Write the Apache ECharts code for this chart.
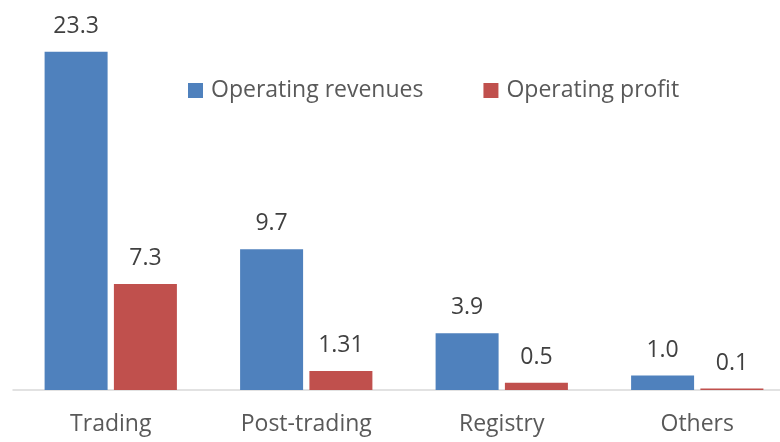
<!DOCTYPE html>
<html>
<head>
<meta charset="utf-8">
<script src="https://cdn.jsdelivr.net/npm/echarts@6/dist/echarts.min.js"></script>
<style>
  html, body { margin: 0; padding: 0; background: #fff; overflow: hidden; }
  #main { width: 795px; height: 442px; }
</style>
</head>
<body>
<div id="main"></div>
<script>
const categories = ['Trading', 'Post-trading', 'Registry', 'Others'];
const revenues = [23.3, 9.7, 3.9, 1.0];
const profit = [7.3, 1.31, 0.5, 0.1];
const revenueLabels = ['23.3', '9.7', '3.9', '1.0'];
const profitLabels = ['7.3', '1.31', '0.5', '0.1'];

// chart is a bit wider than the window so the last category runs off the right edge
const chart = echarts.init(document.getElementById('main'));
const fontFamily = 'Open Sans';

const labelFor = (texts) => ({
    show: true,
    position: 'top',
    distance: 14,
    color: '#404040',
    fontSize: 23,
    fontFamily: fontFamily,
    formatter: (p) => texts[p.dataIndex]
});

const option = {
    backgroundColor: '#fff',
    animation: false,
    grid: { left: 13, right: 0, top: 27, bottom: 52 },
    legend: {
        left: 188,
        top: 79,
        padding: 0,
        itemWidth: 15,
        itemHeight: 15,
        itemGap: 60,
        icon: 'rect',
        textStyle: { color: '#595959', fontSize: 23, fontFamily: fontFamily, padding: [0, 0, 0, 3] },
        data: ['Operating revenues', 'Operating profit']
    },
    xAxis: {
        type: 'category',
        data: categories,
        axisLine: { lineStyle: { color: '#d9d9d9', width: 1.5 } },
        axisTick: { show: false },
        axisLabel: { color: '#595959', fontSize: 23, fontFamily: fontFamily, margin: 23 }
    },
    yAxis: {
        type: 'value',
        min: 0,
        max: 25,
        show: false,
        splitLine: { show: false }
    },
    series: [
        {
            name: 'Operating revenues',
            type: 'bar',
            data: revenues,
            barWidth: 63,
            barGap: '10%',
            itemStyle: { color: '#4f81bd' },
            label: labelFor(revenueLabels)
        },
        {
            name: 'Operating profit',
            type: 'bar',
            data: profit,
            barWidth: 63,
            itemStyle: { color: '#c0504d' },
            label: labelFor(profitLabels)
        }
    ]
};

chart.setOption(option);
</script>
</body>
</html>
